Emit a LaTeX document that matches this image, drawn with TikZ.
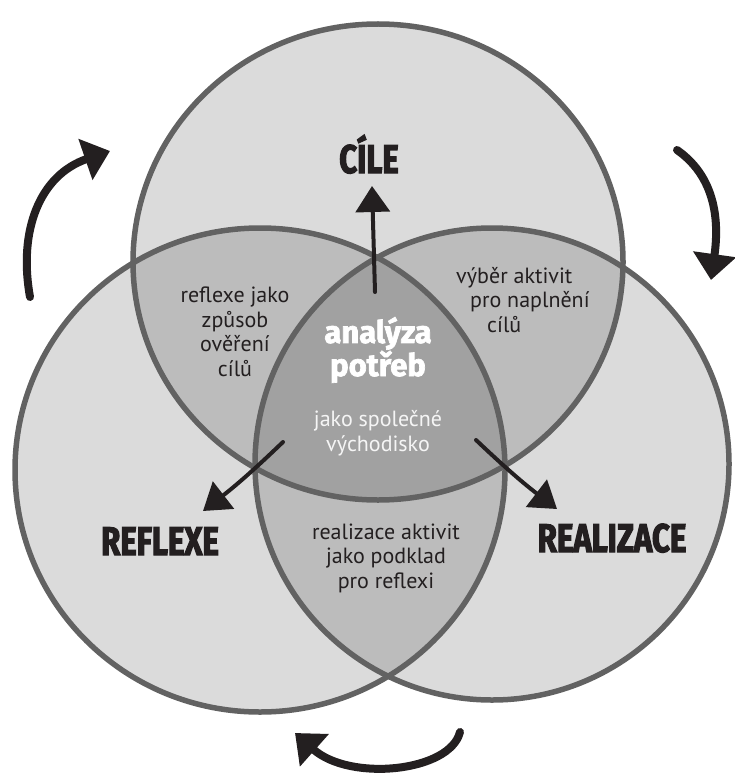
\documentclass[tikz,border=0pt]{standalone}
\usepackage{fontspec}
\setmainfont{PT Sans}
\newfontfamily\heavyfont{Fira Sans}[FakeStretch=0.78, BoldFeatures={FakeBold=2.8}]
\newfontfamily\widefont{Fira Sans}[FakeStretch=1.0, BoldFeatures={FakeBold=2.2}]
\usetikzlibrary{arrows.meta}
\definecolor{venn_line}{RGB}{98, 98, 98}
\definecolor{venn_text}{RGB}{35, 31, 32}
\tikzstyle{none}=[inner sep=0pt]
\tikzstyle{setfill}=[fill=black, fill opacity=0.14]
\tikzstyle{setline}=[draw=venn_line, line width=5.5pt]
\tikzstyle{heading}=[inner sep=0pt, text=venn_text,
  font=\heavyfont\bfseries\fontsize{40}{40}\selectfont]
\tikzstyle{caption}=[inner sep=0pt, text=venn_text, align=center,
  font=\fontsize{22}{24.5}\selectfont]
\tikzstyle{pointer}=[draw=venn_text, line width=4pt, line cap=round,
  -{Triangle[width=34pt,length=26pt]}]
\tikzstyle{turn}=[draw=venn_text, line width=8pt, line cap=round,
  -{Triangle[width=42pt,length=26pt]}]

\begin{document}
\begin{tikzpicture}[x=1pt, y=-1pt]
    \useasboundingbox (0, 0) rectangle (734, 773);
    \coordinate (0) at (378, 262);
    \coordinate (1) at (260, 470);
    \coordinate (2) at (492, 464);
    \fill [style=setfill] (0) ellipse [x radius=245pt, y radius=238pt];
    \fill [style=setfill] (1) ellipse [x radius=245pt, y radius=242pt];
    \fill [style=setfill] (2) ellipse [x radius=237pt, y radius=236pt];
    \draw [style=setline] (0) ellipse [x radius=245pt, y radius=238pt];
    \draw [style=setline] (1) ellipse [x radius=245pt, y radius=242pt];
    \draw [style=setline] (2) ellipse [x radius=237pt, y radius=236pt];
    \node [style=heading, anchor=base] (3) at (369, 173) {CÍLE};
    \node [style=heading, anchor=base] (4) at (160, 555) {REFLEXE};
    \node [style=heading, anchor=base] (5) at (612, 552) {REALIZACE};
    \node [style=caption, anchor=base] (6) at (235, 376) {reflexe jako\\způsob\\ověření\\cílů};
    \node [style=caption, anchor=base west, align=left] (7) at (456, 332) {výběr aktivit\\\hspace*{14pt}pro naplnění\\\hspace*{31pt}cílů};
    \node [style=caption, anchor=base] (8) at (386, 588) {realizace aktivit\\jako podklad\\pro reflexi};
    \node [style=heading, anchor=base, text=white,
      font=\widefont\bfseries\fontsize{31}{32}\selectfont, align=center] (9) at (378, 376) {analýza\\potřeb};
    \node [style=caption, anchor=base, text=white!96!black] (10) at (378, 451) {jako společné\\východisko};
    \node [style=none] (11) at (375, 292) {};
    \node [style=none] (12) at (372, 186) {};
    \node [style=none] (13) at (283, 442) {};
    \node [style=none] (14) at (203, 511) {};
    \node [style=none] (15) at (476, 440) {};
    \node [style=none] (16) at (557, 509) {};
    \node [style=none] (17) at (30, 297) {};
    \node [style=none] (18) at (110, 151) {};
    \node [style=none] (19) at (677, 150) {};
    \node [style=none] (20) at (711, 280) {};
    \node [style=none] (21) at (460, 732) {};
    \node [style=none] (22) at (295, 733) {};
    \draw [style=pointer] (11.center) to (12.center);
    \draw [style=pointer, bend left=3] (13.center) to (14.center);
    \draw [style=pointer, bend right=3] (15.center) to (16.center);
    \draw [style=turn] (17.center) .. controls (18, 230) and (40, 175) .. (18.center);
    \draw [style=turn] (19.center) .. controls (720, 180) and (718, 230) .. (20.center);
    \draw [style=turn] (21.center) .. controls (450, 772) and (350, 782) .. (22.center);
\end{tikzpicture}
\end{document}
